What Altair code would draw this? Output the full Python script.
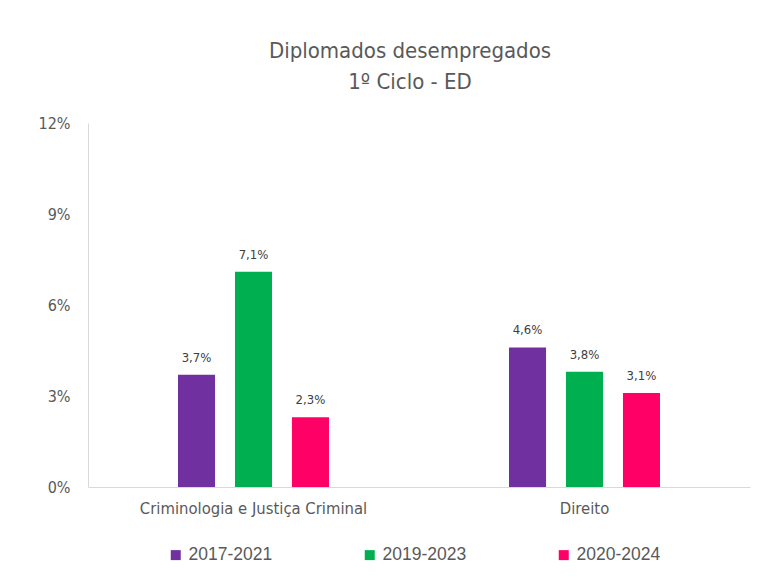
import altair as alt
import pandas as pd

cursos = ["Criminologia e Justiça Criminal", "Direito"]
periodos = ["2017-2021", "2019-2023", "2020-2024"]
valores = {
    "Criminologia e Justiça Criminal": [3.7, 7.1, 2.3],
    "Direito": [4.6, 3.8, 3.1],
}
cores = ["#7030A0", "#00B050", "#FF0066"]

rows = []
for c in cursos:
    for p, v in zip(periodos, valores[c]):
        rows.append({"curso": c, "periodo": p, "valor": v})
df = pd.DataFrame(rows)

FONT = "DejaVu Sans Condensed, Liberation Sans Narrow, sans-serif"
LFONT = "Liberation Sans, Arial, sans-serif"

x = alt.X("curso:N", sort=cursos, title=None,
          scale=alt.Scale(paddingInner=0, paddingOuter=0),
          axis=alt.Axis(labelAngle=0, labelFontSize=16.5, labelColor="#595959",
                        labelFont=FONT, ticks=False, domainColor="#d9d9d9",
                        labelPadding=13, labelLimit=400))
xo = alt.XOffset("periodo:N",
                 scale=alt.Scale(domain=["_a"] + periodos + ["_z"],
                                 paddingInner=0.35, paddingOuter=0.58))
y = alt.Y("valor:Q", title=None,
          scale=alt.Scale(domain=[0, 12]),
          axis=alt.Axis(values=[0, 3, 6, 9, 12], labelExpr="datum.value + '%'",
                        grid=False, ticks=False, domainColor="#d9d9d9",
                        labelFontSize=16, labelColor="#595959", labelFont=FONT,
                        labelPadding=18))

bars = alt.Chart(df).mark_bar().encode(
    x=x, xOffset=xo, y=y,
    color=alt.Color("periodo:N", sort=periodos,
                    scale=alt.Scale(domain=periodos, range=cores),
                    legend=alt.Legend(title=None, orient="none", direction="horizontal",
                                      legendX=79, legendY=423, symbolType="square",
                                      symbolSize=100, symbolStrokeWidth=0,
                                      labelFontSize=17.5, labelColor="#595959",
                                      labelFont=LFONT, columnPadding=88,
                                      symbolOffset=0, labelOffset=4)),
)

labels = alt.Chart(df).transform_calculate(
    txt="replace(format(datum.valor, '.1f'), '.', ',') + '%'"
).mark_text(baseline="bottom", dy=-10, fontSize=13, color="#404040", font=FONT).encode(
    x=x, xOffset=xo, y=y, text="txt:N"
)

chart = alt.layer(bars, labels).properties(
    width=662, height=364,
    title=alt.Title(["Diplomados desempregados", "1º Ciclo - ED"], fontSize=22,
                    font=FONT, fontWeight="normal", color="#595959",
                    anchor="middle", dx=-9, offset=21, lineHeight=31),
    autosize=alt.AutoSizeParams(type="none"),
    padding={"left": 80, "top": 115, "right": 10, "bottom": 82},
).configure_view(stroke=None)

chart.save("out.html", embed_options={"renderer": "svg", "actions": False})
